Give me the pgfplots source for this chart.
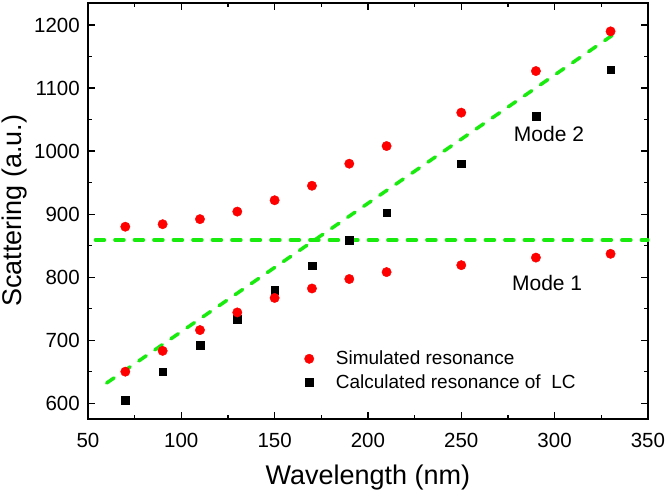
\documentclass[border=0pt]{standalone}
\usepackage{pgfplots}
\pgfplotsset{compat=1.18}
\usepackage{fontspec}
\setmainfont{Liberation Sans}
\definecolor{lime}{RGB}{25,235,15}
\begin{document}
\begin{tikzpicture}
\begin{axis}[
  scale only axis,
  width=560pt, height=416pt,
  xmin=50, xmax=350, ymin=575, ymax=1235,
  xtick={50,100,...,350}, ytick={600,700,...,1200},
  minor x tick num=1, minor y tick num=1,
  tick align=inside,
  major tick length=7pt, minor tick length=4pt,
  every tick/.style={black, line width=1.2pt},
  axis line style={line width=1.5pt},
  /pgf/number format/assume math mode=true,
  /pgf/number format/1000 sep={},
  tick label style={font=\fontsize{20.5}{24}\selectfont, inner sep=1pt},
  xticklabel style={yshift=-13pt},
  yticklabel style={xshift=-7pt},
  xlabel={Wavelength (nm)}, ylabel={Scattering (a.u.)},
  label style={font=\fontsize{27}{30}\selectfont, inner sep=0pt},
  xlabel style={at={(axis description cs:0.5,-0.1586)}, anchor=base},
  ylabel style={at={(axis description cs:-0.1191,0.5)}, anchor=base},
  legend style={draw=none, fill=none, at={(0.381,0.173)}, anchor=north west,
    font=\fontsize{19}{23}\selectfont, row sep=4pt, column sep=20pt},
  legend cell align=left,
  clip=false,
]
\addplot[only marks, mark=*, mark size=4.7pt, red, mark options={draw=red, fill=red}] coordinates {
(70,880)(90,884)(110,892)(130,904)(150,922)(170,945)(190,980)(210,1008)(250,1061)(290,1127)(330,1190)
};
\addlegendentry{Simulated resonance}
\addplot[only marks, mark=square*, mark size=3.8pt, black] coordinates {
(70,605)(90,650)(110,692)(130,733)(150,779)(170,818)(190,859)(210,902)(250,980)(290,1055)(330,1129)
};
\addlegendentry{Calculated resonance of\ \ LC}
\addplot[only marks, mark=*, mark size=4.7pt, red, mark options={draw=red, fill=red}, forget plot] coordinates {
(70,650)(90,683)(110,716)(130,744)(150,767)(170,782)(190,797)(210,808)(250,819)(290,831)(330,837)
};
\addplot[lime, line width=3.5pt, line cap=round, dash pattern=on 9pt off 10.5pt, forget plot] coordinates {(54,859)(350,859)};
\addplot[lime, line width=3.5pt, line cap=round, dash pattern=on 9pt off 10.5pt, forget plot] coordinates {(60,632)(335,1192)};
\node[font=\fontsize{21}{24}\selectfont] at (axis cs:297,1027) {Mode 2};
\node[font=\fontsize{21}{24}\selectfont] at (axis cs:296,790) {Mode 1};
\path (rel axis cs:0,1) -- ++(0pt,3pt);
\path (rel axis cs:0,0) -- ++(-88pt,-72pt);
\end{axis}
\end{tikzpicture}
\end{document}
